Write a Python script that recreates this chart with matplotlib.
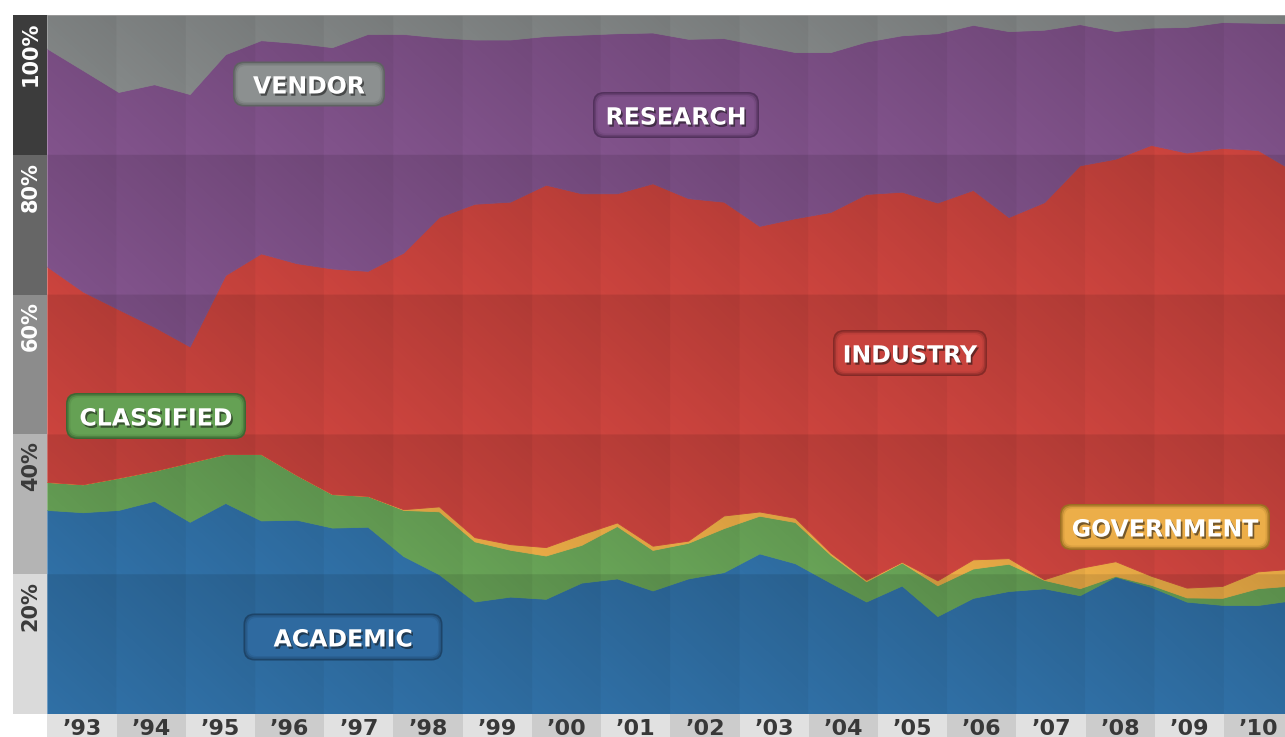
import numpy as np
import matplotlib
matplotlib.use("Agg")
import matplotlib.pyplot as plt
import matplotlib.patheffects as pe
from matplotlib.patches import FancyBboxPatch
from matplotlib.colors import to_rgb

# ── data: share of each sector, half-yearly 1993 H1 … 2010 H2 (percent) ──
years = ["’93", "’94", "’95", "’96", "’97", "’98", "’99", "’00", "’01",
         "’02", "’03", "’04", "’05", "’06", "’07", "’08", "’09", "’10"]

academic = [29.2, 28.9, 29.2, 30.5, 27.5, 30.2, 27.7, 27.8, 26.7, 26.8, 22.6, 20.0,
            16.1, 16.8, 16.5, 18.8, 19.4, 17.7, 19.4, 20.3, 23.0, 21.6, 18.8, 16.1,
            18.4, 14.0, 16.6, 17.6, 18.0, 17.0, 19.7, 18.2, 16.1, 15.6, 15.6, 16.3]
classified = [4.0, 4.0, 4.6, 4.3, 8.5, 7.0, 9.5, 6.4, 4.8, 4.4, 6.6, 9.0,
              8.6, 6.7, 6.2, 5.4, 7.5, 5.8, 5.1, 6.3, 5.4, 5.9, 4.0, 2.9,
              3.3, 4.4, 4.2, 3.9, 1.2, 1.0, 0.1, 0.3, 0.6, 1.0, 2.4, 2.1]
government = [0.0, 0.0, 0.0, 0.0, 0.0, 0.0, 0.0, 0.0, 0.0, 0.0, 0.1, 0.7,
              0.6, 0.8, 1.2, 1.5, 0.5, 0.6, 0.3, 1.8, 0.6, 0.6, 0.3, 0.2,
              0.1, 0.7, 1.3, 0.8, 0.1, 2.9, 2.1, 1.3, 1.4, 1.7, 2.4, 2.4]
industry = [30.8, 27.6, 24.1, 20.6, 16.6, 25.6, 28.7, 30.3, 32.3, 32.2, 36.7, 41.4,
            47.7, 49.0, 51.9, 48.8, 47.1, 51.9, 49.0, 44.9, 40.9, 42.9, 48.8, 55.2,
            53.0, 54.0, 52.8, 48.8, 54.0, 57.6, 57.7, 61.7, 62.3, 62.6, 60.3, 56.9]
research = [31.2, 31.7, 31.1, 34.7, 36.1, 31.6, 30.5, 31.5, 31.7, 33.9, 31.3, 25.7,
            23.5, 23.2, 21.3, 22.7, 22.9, 21.6, 22.8, 23.4, 25.9, 23.8, 22.9, 21.8,
            22.4, 24.2, 23.6, 26.6, 24.7, 20.2, 18.3, 16.8, 18.0, 18.0, 18.2, 21.1]
vendor = [4.8, 7.9, 11.0, 9.9, 11.3, 5.6, 3.6, 4.0, 4.6, 2.7, 2.7, 3.2,
          3.5, 3.5, 3.0, 2.8, 2.6, 2.5, 3.4, 3.3, 4.3, 5.3, 5.3, 3.8,
          2.9, 2.6, 1.4, 2.3, 2.1, 1.3, 2.3, 1.8, 1.7, 1.0, 1.1, 1.2]

series = [academic, classified, government, industry, research, vendor]
names = ["ACADEMIC", "CLASSIFIED", "GOVERNMENT", "INDUSTRY", "RESEARCH", "VENDOR"]
colors = ["#3070a6", "#68a357", "#ecad47", "#cc443e", "#82538c", "#8b8f8f"]

# normalise each half-year to exactly 100 %
vals = np.array(series, dtype=float)
vals = vals / vals.sum(axis=0) * 100.0

n_years = len(years)
x = np.linspace(0, n_years, vals.shape[1])   # 36 half-year points across 18 year columns

# ── figure layout (pixel based) ───────────────────────────────────────────
W, H = 1285, 737
fig = plt.figure(figsize=(W / 100, H / 100), dpi=100, facecolor="white")

px_left, px_right, px_top, px_bot = 47.3, 1285, 15, 714
col_w = (1293.4 - px_left) / n_years          # last column runs past the image edge
x_max = (px_right - px_left) / col_w

ax = fig.add_axes([px_left / W, (H - px_bot) / H,
                   (px_right - px_left) / W, (px_bot - px_top) / H])
polys = ax.stackplot(x, vals, colors=colors, linewidth=0, zorder=2)
for p, c in zip(polys, colors):
    p.set_edgecolor(c)
    p.set_linewidth(0.6)

# subtle per-cell gradient (darker towards top-right of every year/20 % cell)
gx = np.linspace(0, n_years, 1400)
gy = np.linspace(0, 100, 800)
fx = gx % 1.0
fy = (gy % 20.0) / 20.0
shade = np.zeros((gy.size, gx.size, 4))
shade[..., 3] = 0.10 * fy[:, None] + 0.045 * fx[None, :]
ax.imshow(shade, extent=[0, n_years, 0, 100], origin="lower", aspect="auto",
          interpolation="bilinear", zorder=3)

ax.set_xlim(0, x_max)
ax.set_ylim(0, 100)
ax.set_xticks([])
ax.set_yticks([])
for s in ax.spines.values():
    s.set_visible(False)
ax.axhline(100, color="#9a9a9a", lw=1.2, zorder=4)

# ── series labels: centre and box size in pixels ──────────────────────────
label_box = {
    "VENDOR": (309, 84, 152, 45),
    "RESEARCH": (676, 115, 166, 46),
    "INDUSTRY": (910, 353, 154, 46),
    "CLASSIFIED": (156, 416, 180, 46),
    "GOVERNMENT": (1165, 527, 210, 46),
    "ACADEMIC": (343, 637, 199, 47),
}
box_fc = {"ACADEMIC": "#2f6aa0", "CLASSIFIED": "#65a154", "GOVERNMENT": "#ecae49",
          "INDUSTRY": "#c8433d", "RESEARCH": "#7e5089", "VENDOR": "#8c9090"}
box_ec = {"ACADEMIC": "#1d4468", "CLASSIFIED": "#3d6833", "GOVERNMENT": "#9c6e22",
          "INDUSTRY": "#852a27", "RESEARCH": "#52315c", "VENDOR": "#5f6262"}


def mix(c1, c2, t):
    a, b = np.array(to_rgb(c1)), np.array(to_rgb(c2))
    return tuple(a * (1 - t) + b * t)


for name in names:
    cx, cy, bw, bh = label_box[name]
    # layered boxes give a soft inner shadow
    for k, inset in enumerate([0, 1.5, 3.0, 4.5]):
        fc = mix(box_ec[name], box_fc[name], [0.0, 0.45, 0.8, 1.0][k])
        bb = FancyBboxPatch(((cx - bw / 2 + inset) / 100, (H - cy - bh / 2 + inset) / 100),
                            (bw - 2 * inset) / 100, (bh - 2 * inset) / 100,
                            boxstyle=f"round,pad=0,rounding_size={(11 - inset * 0.6) / 100}",
                            transform=fig.dpi_scale_trans, fc=fc, ec="none",
                            zorder=5 + k * 0.01)
        fig.add_artist(bb)
    t = fig.text(cx / W, (H - cy) / H, name, ha="center", va="center_baseline",
                 fontsize=17, fontweight="bold", color="white", zorder=6)
    t.set_path_effects([pe.SimplePatchShadow(offset=(1.2, -1.6),
                                             shadow_rgbFace="#111111", alpha=0.55),
                        pe.Normal()])

# ── left percentage bar ───────────────────────────────────────────────────
ay = fig.add_axes([13 / W, (H - px_bot) / H, (px_left - 13) / W,
                   (px_bot - px_top) / H])
ay.set_xlim(0, 1)
ay.set_ylim(0, 100)
ay.axis("off")
bar_cols = ["#dadada", "#b4b4b4", "#8c8c8c", "#666666", "#3c3c3c"]
txt_cols = ["#3a3a3a", "#3a3a3a", "white", "white", "white"]
for k in range(5):
    ay.axhspan(20 * k, 20 * (k + 1), color=bar_cols[k], lw=0)
    ay.text(0.52, 20 * (k + 1) - 1.0, f"{20 * (k + 1)}%", rotation=90,
            ha="center", va="top", fontsize=15, fontweight="bold",
            color=txt_cols[k])

# ── year strip ────────────────────────────────────────────────────────────
axx = fig.add_axes([px_left / W, 0, (px_right - px_left) / W, (H - px_bot) / H])
axx.set_xlim(0, x_max)
axx.set_ylim(0, 1)
axx.axis("off")
for k, lab in enumerate(years):
    axx.axvspan(k, k + 1, color="#e1e1e1" if k % 2 == 0 else "#cccccc", lw=0)
    axx.text(k + 0.5, 0.09, lab, ha="center", va="baseline", fontsize=16,
             fontweight="bold", color="#383838", clip_on=False)

fig.savefig("out.png", dpi=100, facecolor="white")
